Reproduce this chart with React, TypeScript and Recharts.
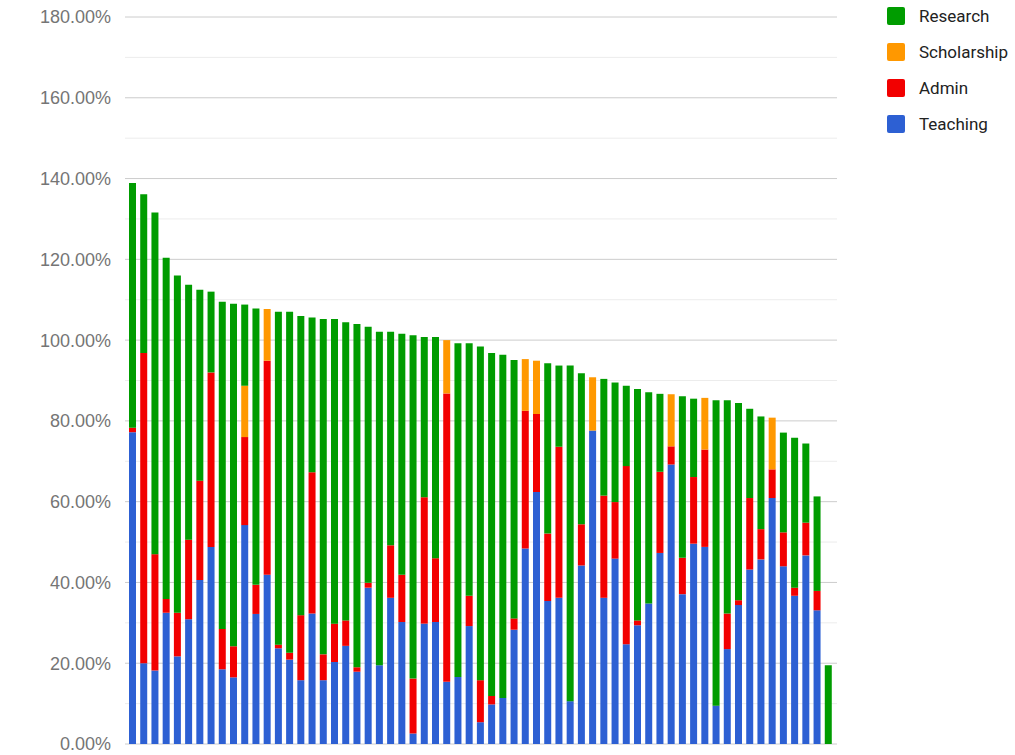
import { BarChart, Bar, XAxis, YAxis, CartesianGrid } from 'recharts';

// values per person, in percent
const teaching = [
  77.2, 20.0, 18.2, 32.5, 21.7, 30.9, 40.6, 48.8, 18.5, 16.5, 54.2, 32.2, 41.9, 23.7, 20.9, 15.8,
  32.3, 15.8, 20.3, 24.3, 17.9, 38.7, 19.5, 36.2, 30.2, 2.6, 29.8, 30.2, 15.4, 16.6, 29.2, 5.4,
  9.8, 11.4, 28.3, 48.4, 62.4, 35.4, 36.2, 10.6, 44.2, 77.6, 36.2, 45.9, 24.7, 29.4, 34.8, 47.3,
  69.2, 37.1, 49.6, 48.8, 9.5, 23.5, 34.4, 43.2, 45.7, 60.9, 44.0, 36.7, 46.7, 33.1, 0,
];
const admin = [
  1.1, 76.8, 28.8, 3.4, 10.8, 19.7, 24.6, 43.2, 10.0, 7.7, 21.8, 7.2, 53.0, 0.9, 1.7, 16.1,
  35.0, 6.4, 9.5, 6.3, 1.1, 1.2, 0, 13.0, 11.7, 13.6, 31.3, 15.8, 71.4, 0, 7.5, 10.4,
  2.1, 0, 2.8, 34.1, 19.3, 16.7, 37.4, 0, 10.2, 0, 25.3, 14.0, 44.1, 1.2, 0, 20.1,
  4.5, 9.0, 16.5, 24.1, 0, 8.8, 1.2, 17.7, 7.5, 7.1, 8.4, 2.0, 8.1, 4.8, 0,
];
const scholarship = [
  0, 0, 0, 0, 0, 0, 0, 0, 0, 0, 12.7, 0, 12.8, 0, 0, 0,
  0, 0, 0, 0, 0, 0, 0, 0, 0, 0, 0, 0, 13.2, 0, 0, 0,
  0, 0, 0, 12.8, 13.2, 0, 0, 0, 0, 13.2, 0, 0, 0, 0, 0, 0,
  12.9, 0, 0, 12.8, 0, 0, 0, 0, 0, 12.8, 0, 0, 0, 0, 0,
];
const research = [
  60.6, 39.3, 84.6, 84.5, 83.5, 63.1, 47.3, 20.0, 81.0, 84.8, 20.1, 68.4, 0, 82.4, 84.4, 74.1,
  38.3, 83.0, 75.4, 73.8, 85.0, 63.4, 82.6, 52.9, 59.7, 85.0, 39.7, 54.8, 0, 82.6, 62.5, 82.6,
  84.9, 85.0, 64.0, 0, 0, 42.2, 20.1, 83.1, 37.4, 0, 28.9, 29.6, 19.9, 57.3, 52.3, 19.3,
  0, 40.0, 19.4, 0, 75.6, 52.8, 48.8, 22.1, 27.9, 0, 24.7, 37.1, 19.6, 23.4, 19.5,
];

const majorTicks = [0, 20, 40, 60, 80, 100, 120, 140, 160, 180];
const minorTicks = [10, 30, 50, 70, 90, 110, 130, 150, 170];

// stacking order bottom -> top
const series = [
  { key: 'Teaching', values: teaching, color: '#2d60d3' },
  { key: 'Admin', values: admin, color: '#f20000' },
  { key: 'Scholarship', values: scholarship, color: '#ff9800' },
  { key: 'Research', values: research, color: '#009c00' },
];

const data = teaching.map((_, i) => {
  const row: Record<string, number | string> = { name: `p${i + 1}` };
  series.forEach((s) => {
    row[s.key] = s.values[i];
  });
  return row;
});

export default function App() {
  return (
    <div style={{ position: 'absolute', left: 0, top: 0, width: 1015, height: 755, background: '#fff' }}>
      <BarChart
        width={1015}
        height={755}
        data={data}
        margin={{ top: 17, right: 178, bottom: 11, left: 0 }}
      >
        <CartesianGrid vertical={false} horizontalValues={minorTicks} stroke="#ececec" />
        <CartesianGrid vertical={false} horizontalValues={majorTicks} stroke="#cccccc" />
        <XAxis
          dataKey="name"
          tick={false}
          tickLine={false}
          height={0}
          axisLine={{ stroke: '#333' }}
          padding={{ left: 2, right: 3 }}
        />
        <YAxis
          width={125}
          domain={[0, 180]}
          ticks={majorTicks}
          axisLine={false}
          tickLine={false}
          tickSize={0}
          tickMargin={14}
          tickFormatter={(v: number) => `${v.toFixed(2)}%`}
          tick={{ fill: '#757575', fontSize: 18, fontFamily: 'Arial, "Liberation Sans", sans-serif' }}
        />
        {series.map((s) => (
          <Bar key={s.key} dataKey={s.key} stackId="a" fill={s.color} barSize={7} isAnimationActive={false} />
        ))}
      </BarChart>
      <div style={{ position: 'absolute', left: 887, top: 7 }}>
        {[...series].reverse().map((s) => (
          <div key={s.key} style={{ display: 'flex', alignItems: 'center', height: 36 }}>
            <span
              style={{ width: 18, height: 18, borderRadius: 2, background: s.color, display: 'inline-block', marginTop: -18 }}
            />
            <span
              style={{
                marginLeft: 14,
                marginTop: -18,
                fontFamily: 'Roboto, Arial, sans-serif',
                fontSize: 17,
                color: '#222',
              }}
            >
              {s.key}
            </span>
          </div>
        ))}
      </div>
    </div>
  );
}
